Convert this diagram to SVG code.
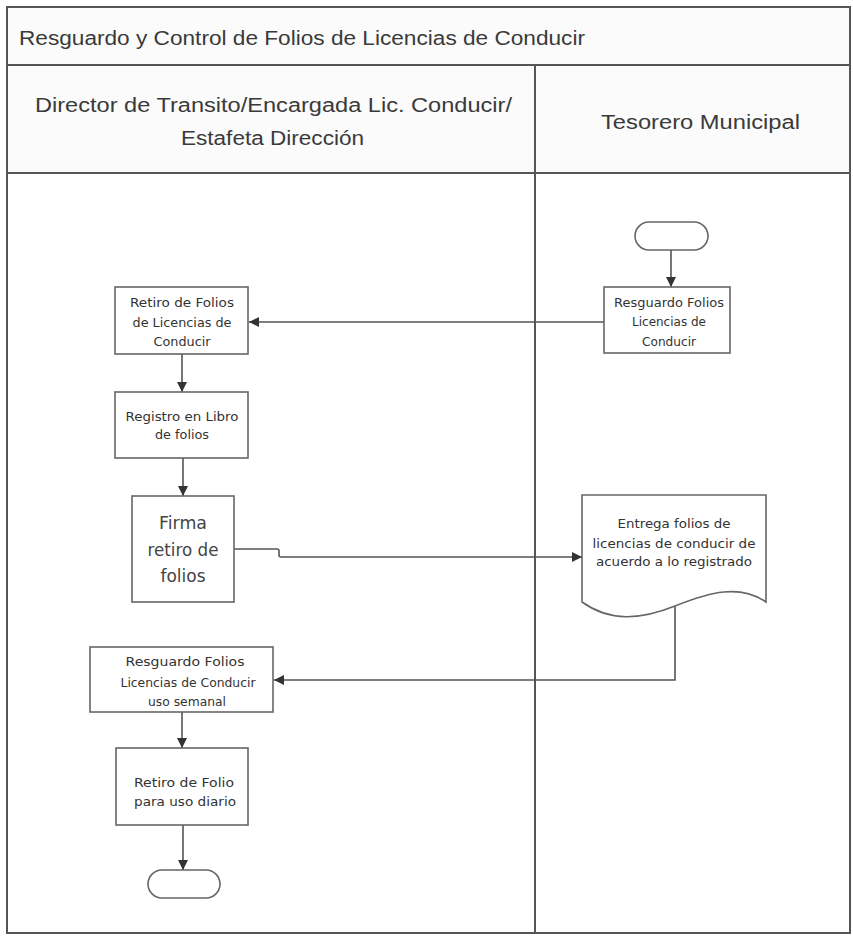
<svg xmlns="http://www.w3.org/2000/svg" width="853" height="938" viewBox="0 0 853 938">
<style>
.frame{fill:none;stroke:#555;stroke-width:2}
.box{fill:#fff;stroke:#666;stroke-width:1.6}
.hdr{font-family:"Liberation Sans",Arial,sans-serif;font-size:20px;fill:#3a3a3a}
.t{font-family:"DejaVu Sans",Verdana,sans-serif;font-size:12.5px;fill:#333;text-anchor:middle}
.tb{font-family:"DejaVu Sans",Verdana,sans-serif;font-size:17px;fill:#444;text-anchor:middle}
.con{fill:none;stroke:#555;stroke-width:1.6}
</style>
<defs>
<marker id="arr" viewBox="0 0 10 10" refX="10" refY="5" markerWidth="10" markerHeight="10" markerUnits="userSpaceOnUse" orient="auto">
<path d="M0,0 L10,5 L0,10 z" fill="#333"/>
</marker>
</defs>
<rect width="853" height="938" fill="#fff"/>
<g id="frame">
<rect x="7" y="7" width="843" height="926" class="frame" fill="none"/>
<rect x="8" y="8" width="841" height="56" fill="#fbfbfb"/>
<rect x="8" y="66" width="841" height="106" fill="#fbfbfb"/>
<line x1="7" y1="65" x2="850" y2="65" class="frame"/>
<line x1="7" y1="173" x2="850" y2="173" class="frame"/>
<line x1="535" y1="65" x2="535" y2="933" class="frame"/>
<text class="hdr" x="19" y="45" textLength="566" lengthAdjust="spacingAndGlyphs">Resguardo y Control de Folios de Licencias de Conducir</text>
<text class="hdr" x="35" y="112" textLength="477" lengthAdjust="spacingAndGlyphs">Director de Transito/Encargada Lic. Conducir/</text>
<text class="hdr" x="181" y="145" textLength="183" lengthAdjust="spacingAndGlyphs">Estafeta Dirección</text>
<text class="hdr" x="601" y="129" textLength="199" lengthAdjust="spacingAndGlyphs">Tesorero Municipal</text>
</g>
<g id="connectors">
<line x1="671" y1="250" x2="671" y2="287" class="con" marker-end="url(#arr)"/>
<line x1="604" y1="322" x2="249" y2="322" class="con" marker-end="url(#arr)"/>
<line x1="182" y1="354" x2="182" y2="392" class="con" marker-end="url(#arr)"/>
<line x1="183" y1="458" x2="183" y2="496" class="con" marker-end="url(#arr)"/>
<path d="M234,549 H277 Q279,549 279,551 V555 Q279,557 281,557 H582" class="con" marker-end="url(#arr)"/>
<path d="M675,606 V680 H274" class="con" marker-end="url(#arr)"/>
<line x1="182" y1="712" x2="182" y2="748" class="con" marker-end="url(#arr)"/>
<line x1="183" y1="825" x2="183" y2="870" class="con" marker-end="url(#arr)"/>
</g>
<g id="start">
<rect x="635" y="222" width="73" height="28" rx="14" class="box"/>
</g>
<g id="resguardo-tesoreria">
<rect x="604" y="287" width="126" height="66" class="box"/>
<text class="t" x="669" y="307" textLength="110" lengthAdjust="spacingAndGlyphs">Resguardo Folios</text>
<text class="t" x="669" y="326" textLength="74" lengthAdjust="spacingAndGlyphs">Licencias de</text>
<text class="t" x="669" y="346" textLength="54" lengthAdjust="spacingAndGlyphs">Conducir</text>
</g>
<g id="retiro-folios">
<rect x="115" y="287" width="133" height="67" class="box"/>
<text class="t" x="182" y="307" textLength="104" lengthAdjust="spacingAndGlyphs">Retiro de Folios</text>
<text class="t" x="182" y="327" textLength="99" lengthAdjust="spacingAndGlyphs">de Licencias de</text>
<text class="t" x="182" y="346" textLength="57" lengthAdjust="spacingAndGlyphs">Conducir</text>
</g>
<g id="registro-libro">
<rect x="115" y="392" width="133" height="66" class="box"/>
<text class="t" x="182" y="421" textLength="113" lengthAdjust="spacingAndGlyphs">Registro en Libro</text>
<text class="t" x="182" y="439" textLength="54" lengthAdjust="spacingAndGlyphs">de folios</text>
</g>
<g id="firma-retiro">
<rect x="132" y="496" width="102" height="106" class="box"/>
<text class="tb" x="183" y="529" textLength="48" lengthAdjust="spacingAndGlyphs">Firma</text>
<text class="tb" x="183" y="556" textLength="71" lengthAdjust="spacingAndGlyphs">retiro de</text>
<text class="tb" x="183" y="582" textLength="45" lengthAdjust="spacingAndGlyphs">folios</text>
</g>
<g id="entrega-folios">
<path d="M582,495 H766 V602 C740,584 710,592 675,606 C640,620 610,622 582,602 Z" class="box"/>
<text class="t" x="674" y="528" textLength="113" lengthAdjust="spacingAndGlyphs">Entrega folios de</text>
<text class="t" x="674" y="548" textLength="163" lengthAdjust="spacingAndGlyphs">licencias de conducir de</text>
<text class="t" x="674" y="566" textLength="156" lengthAdjust="spacingAndGlyphs">acuerdo a lo registrado</text>
</g>
<g id="resguardo-semanal">
<rect x="90" y="647" width="183" height="65" class="box"/>
<text class="t" x="185" y="666" textLength="119" lengthAdjust="spacingAndGlyphs">Resguardo Folios</text>
<text class="t" x="188" y="687" textLength="135" lengthAdjust="spacingAndGlyphs">Licencias de Conducir</text>
<text class="t" x="187" y="706" textLength="78" lengthAdjust="spacingAndGlyphs">uso semanal</text>
</g>
<g id="retiro-diario">
<rect x="116" y="748" width="132" height="77" class="box"/>
<text class="t" x="184" y="787" textLength="100" lengthAdjust="spacingAndGlyphs">Retiro de Folio</text>
<text class="t" x="185" y="806" textLength="102" lengthAdjust="spacingAndGlyphs">para uso diario</text>
</g>
<g id="end">
<rect x="148" y="870" width="72" height="28" rx="14" class="box"/>
</g>
</svg>
